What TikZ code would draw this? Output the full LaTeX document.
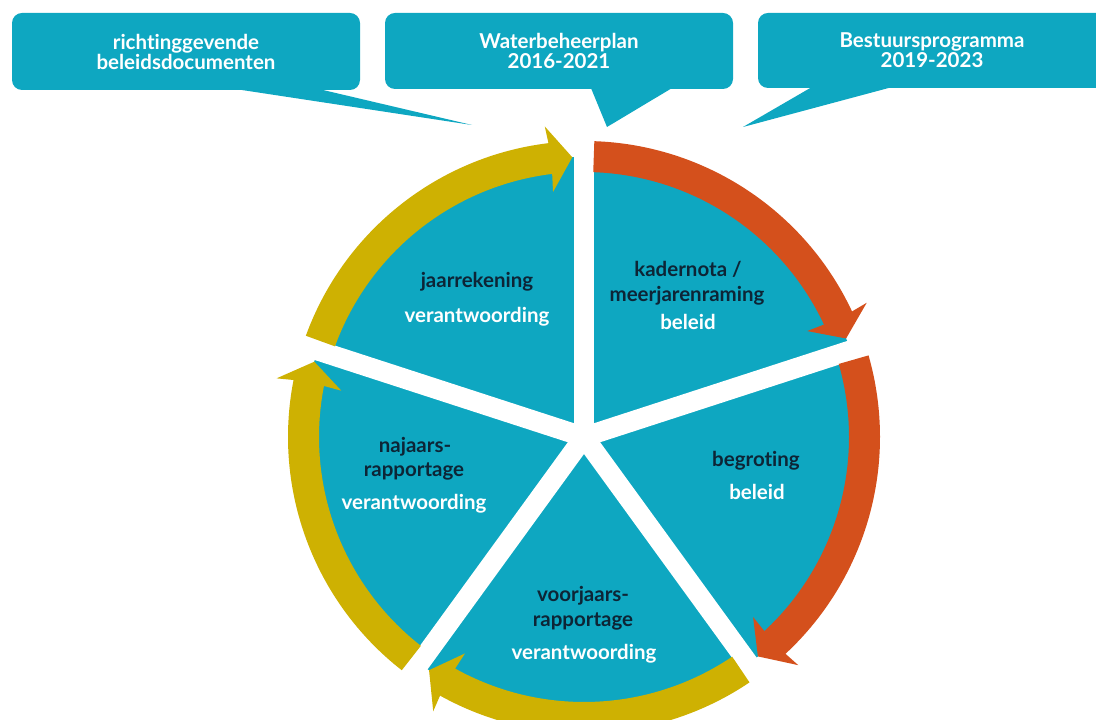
\documentclass[tikz,border=0pt]{standalone}
\usepackage{fontspec}
\setmainfont{Lato}[Ligatures={NoCommon}]
\definecolor{tealc}{HTML}{0EA7C1}
\definecolor{orangec}{HTML}{D4501C}
\definecolor{yellowc}{HTML}{CEB102}
\definecolor{darkc}{HTML}{0D2536}
\newcommand\cycarrow[3]{%
  \fill[#1] (#2:265) arc[start angle=#2, end angle={#3+4.5}, radius=265]
    -- ({#3+4.8}:247) -- (#3:280) -- ({#3+4.8}:313)
    -- ({#3+4.5}:296) arc[start angle={#3+4.5}, end angle=#2, radius=296] -- cycle;}
\begin{document}
\begin{tikzpicture}[x=1pt,y=1pt,
  callout/.style={fill=tealc, rounded corners=10pt, minimum width=#1, inner sep=0pt,
    text=white, font=\fontsize{20.5}{20}\selectfont\bfseries, align=center},
  darklbl/.style={text=darkc, font=\fontsize{20.5}{22}\selectfont\bfseries, anchor=base, inner sep=0pt},
  lightlbl/.style={text=white, font=\fontsize{20.5}{22}\selectfont\bfseries, anchor=base, inner sep=0pt},
  gapline/.style={white, line width=20pt},
]
\useasboundingbox (0,0) rectangle (1096,720);
\clip (0,0) rectangle (1096,720);

% callouts
\node[callout=348pt, minimum height=77pt] (b1) at (186,668.5) {richtinggevende\\beleidsdocumenten};
\node[callout=348pt, minimum height=76pt] (b2) at (559,669) {Waterbeheerplan\\2016-2021};
\node[callout=348pt, minimum height=75pt] (b3) at (932,669.5) {Bestuursprogramma\\2019-2023};
\coordinate (t1) at (472,595);
\coordinate (t2) at (607,593);
\coordinate (t3) at (743,593);
\fill[tealc] ([shift={(205,4)}]b1.south west) -- (t1) -- ([shift={(295,4)}]b1.south west) -- cycle;
\fill[tealc] ([shift={(205,4)}]b2.south west) -- (t2) -- ([shift={(292,4)}]b2.south west) -- cycle;
\fill[tealc] ([shift={(59,4)}]b3.south west) -- (t3) -- ([shift={(145,4)}]b3.south west) -- cycle;

% pie
\coordinate (c) at (584,283);
\fill[tealc] (c) circle[radius=280];
\foreach \a/\n in {90/1,18/2,306/3,234/4,162/5}{
  \coordinate (g\n) at ([shift={(\a:292)}]c);
  \draw[gapline] (c) -- (g\n);
}

% cycle arrows
\begin{scope}[shift={(c)}]
  \cycarrow{orangec}{88}{20.6}
  \cycarrow{orangec}{16}{-51.6}
  \cycarrow{yellowc}{304}{236.4}
  \cycarrow{yellowc}{232}{164.4}
  \cycarrow{yellowc}{160}{92.4}
\end{scope}

% labels
\node[darklbl]  (l1a) at (477,432) {jaarrekening};
\node[lightlbl] (l1b) at (477,397) {verantwoording};
\node[darklbl]  (l2a) at (688,443) {kadernota /};
\node[darklbl]  (l2b) at (687,418) {meerjarenraming};
\node[lightlbl] (l2c) at (688,390) {beleid};
\node[darklbl]  (l3a) at (756,253) {begroting};
\node[lightlbl] (l3b) at (757,220) {beleid};
\node[darklbl]  (l4a) at (583,118) {voorjaars-};
\node[darklbl]  (l4b) at (583,93) {rapportage};
\node[lightlbl] (l4c) at (584,60) {verantwoording};
\node[darklbl]  (l5a) at (415,267) {najaars-};
\node[darklbl]  (l5b) at (414,243) {rapportage};
\node[lightlbl] (l5c) at (414,210) {verantwoording};
\end{tikzpicture}
\end{document}
